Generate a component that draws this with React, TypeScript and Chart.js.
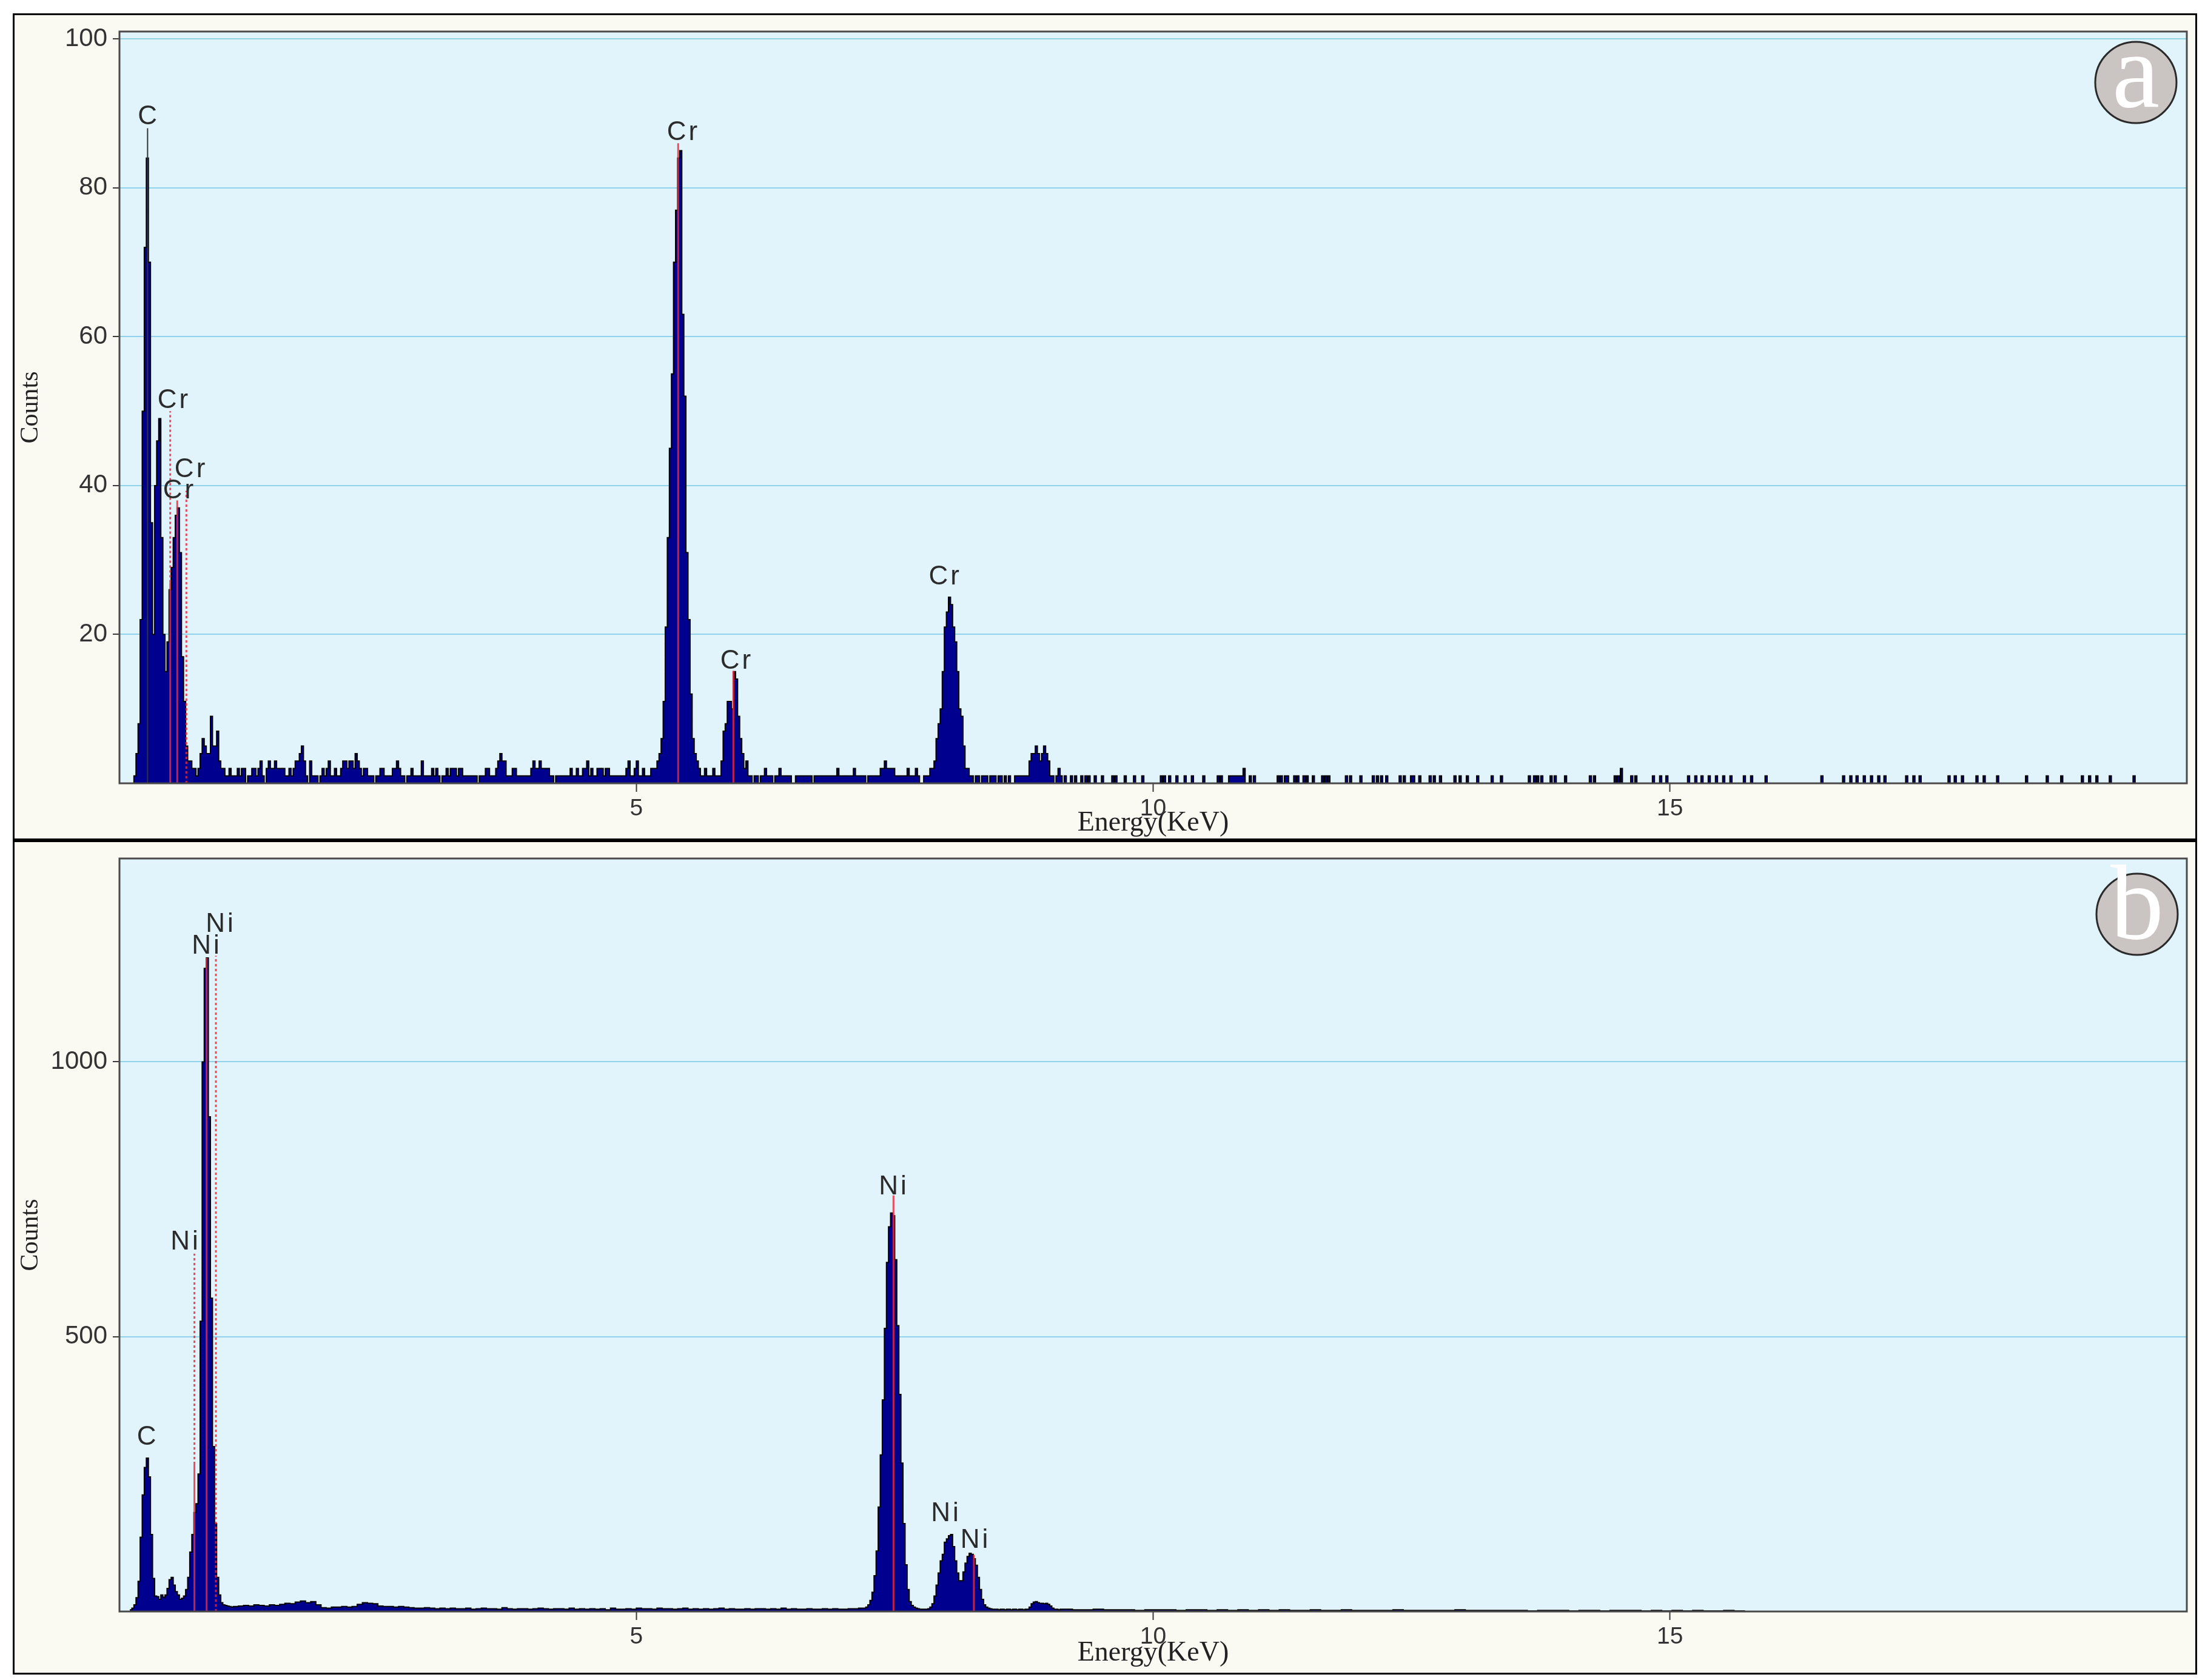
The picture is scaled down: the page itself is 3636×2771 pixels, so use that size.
import React, { useEffect, useRef } from 'react';
import { Chart, registerables } from 'chart.js';

Chart.register(...registerables);

// ================= Panel (a) : Cr spectrum =================
const startA = 0.1;
const widthA = 0.02;
// counts per 0.02 keV channel, from 0.10 keV to 9.30 keV
const countsA = [
  // 0.10 - 1.08
  0, 0, 1, 4, 8, 22, 50, 72, 84, 70,
  35, 20, 40, 46, 49, 33, 20, 15, 19, 26,
  29, 33, 36, 37, 31, 17, 11, 5, 3, 3,
  2, 2, 1, 2, 4, 6, 5, 4, 4, 9,
  5, 5, 7, 3, 2, 2, 1, 1, 2, 1,
  // 1.10 - 5.10
  1, 1, 2, 1, 2, 2, 0, 1, 1, 2,
  2, 1, 2, 3, 1, 0, 2, 3, 2, 2,
  3, 2, 2, 2, 2, 1, 1, 2, 1, 2,
  3, 3, 4, 5, 3, 1, 0, 3, 1, 1,
  1, 0, 1, 2, 1, 2, 3, 1, 1, 2,
  1, 1, 2, 3, 3, 2, 3, 3, 2, 4,
  3, 2, 1, 2, 2, 1, 1, 1, 0, 1,
  1, 2, 2, 1, 1, 1, 1, 2, 2, 3,
  2, 1, 1, 0, 1, 1, 2, 1, 1, 1,
  1, 3, 1, 1, 1, 1, 2, 1, 2, 1,
  0, 1, 1, 2, 1, 2, 2, 2, 1, 2,
  2, 1, 1, 1, 1, 1, 1, 1, 0, 1,
  1, 1, 2, 2, 1, 1, 1, 2, 3, 4,
  3, 3, 1, 1, 1, 2, 2, 1, 1, 1,
  1, 1, 1, 1, 2, 3, 2, 2, 3, 2,
  2, 2, 2, 1, 1, 0, 1, 1, 1, 1,
  1, 1, 1, 2, 1, 1, 2, 1, 1, 2,
  2, 3, 1, 2, 1, 1, 2, 2, 2, 1,
  2, 2, 1, 1, 1, 1, 1, 1, 1, 1,
  2, 3, 1, 1, 2, 3, 1, 1, 2, 1,
  1,
  // 5.12 - 9.30
  1, 2, 2, 2, 3, 4, 6, 11, 21, 33,
  45, 55, 70, 77, 84, 85, 63, 52, 31, 22,
  12, 6, 4, 3, 2, 1, 1, 2, 1, 1,
  1, 2, 1, 1, 1, 3, 7, 8, 11, 11,
  10, 15, 14, 9, 6, 4, 2, 3, 1, 1,
  0, 1, 1, 0, 1, 1, 2, 1, 1, 1,
  0, 1, 1, 2, 1, 1, 1, 1, 1, 0,
  0, 1, 1, 1, 1, 1, 1, 1, 1, 0,
  1, 1, 1, 1, 1, 1, 1, 1, 1, 1,
  1, 2, 1, 1, 1, 1, 1, 1, 1, 2,
  1, 1, 1, 1, 1, 0, 1, 1, 1, 1,
  1, 1, 2, 2, 3, 2, 2, 2, 2, 1,
  1, 1, 1, 1, 1, 2, 1, 1, 1, 2,
  1, 0, 0, 1, 1, 1, 2, 2, 3, 6,
  8, 10, 15, 21, 23, 25, 24, 21, 19, 15,
  10, 9, 5, 2, 2, 1, 1, 0, 1, 1,
  0, 1, 1, 1, 0, 1, 1, 1, 0, 1,
  1, 0, 1, 0, 1, 0, 0, 1, 1, 1,
  1, 1, 1, 1, 3, 4, 4, 5, 4, 3,
  4, 5, 4, 3, 1, 1, 0, 1, 2, 1,
  0, 1, 0, 0, 1, 0, 1, 0, 0, 1,
];
// isolated single-count channels above 9.3 keV
const tailEnergiesA = [
  9.34, 9.37, 9.43, 9.5, 9.6, 9.63, 9.72, 9.81, 9.89, 10.07, 10.1, 10.15, 10.22, 10.3,
  10.37, 10.48, 10.62, 10.65, 10.73, 10.75, 10.77, 10.79, 10.81, 10.83, 10.85, 10.87,
  10.93, 10.97, 11.2, 11.23, 11.27, 11.29, 11.36, 11.39, 11.45, 11.48, 11.54, 11.63,
  11.66, 11.69, 11.86, 11.9, 12.0, 12.12, 12.16, 12.2, 12.25, 12.38, 12.42, 12.49,
  12.51, 12.57, 12.67, 12.71, 12.77, 12.91, 12.96, 13.03, 13.13, 13.27, 13.36, 13.63,
  13.68, 13.71, 13.75, 13.84, 13.88, 13.98, 14.22, 14.26, 14.46, 14.49, 14.52, 14.62,
  14.66, 14.83, 14.9, 14.96, 15.17, 15.24, 15.3, 15.37, 15.44, 15.51, 15.58, 15.71,
  15.78, 15.92, 16.46, 16.67, 16.74, 16.8, 16.87, 16.94, 17.01, 17.07, 17.28, 17.35,
  17.41, 17.69, 17.75, 17.82, 17.96, 18.03, 18.16, 18.44, 18.64, 18.78, 18.98, 19.05,
  19.12, 19.25, 19.48,
];
const tailDoublesA = [10.87, 14.52];
const yTicksA = [20, 40, 60, 80, 100];
const yMaxA = 101;
const markerEnergiesA = [0.272, 0.491, 0.559, 0.647, 5.405, 5.939];
const markerTopsA = [88, 50, 38, 39.3, 86, 15.1];
const markerSolidTopsA = [88, 27, 38, 0, 86, 15.1];
const markerIsGrayA = [true, false, false, false, false, false];
const labelTextsA = ['C', 'Cr', 'Cr', 'Cr', 'Cr', 'Cr', 'Cr'];
const labelEnergiesA = [0.27, 0.516, 0.569, 0.681, 5.444, 5.961, 7.977];
const labelValuesA = [88.5, 50.4, 38.3, 41.1, 86.4, 15.4, 26.7];

// ================= Panel (b) : Ni spectrum =================
const segStartsB = [0.1, 1.1, 7.2, 9.12];
const segWidthsB = [0.02, 0.05, 0.02, 0.1];
const countsB1 = [
  3, 6, 12, 25, 55, 135, 212, 262, 279, 245,
  140, 60, 28, 27, 22, 30, 26, 30, 42, 58,
  62, 48, 36, 30, 22, 24, 28, 40, 62, 108,
  140, 180, 196, 250, 528, 1000, 1170, 1189, 900, 570,
  300, 160, 62, 30, 16, 12, 11, 10, 9, 8,
];
const countsB2 = [
  9, 10, 11, 10, 12, 11, 10, 12, 11, 13,
  15, 14, 17, 19, 16, 18, 12, 7, 6, 8,
  8, 9, 8, 9, 13, 16, 15, 14, 10, 9,
  9, 8, 9, 8, 7, 6, 6, 7, 6, 5,
  6, 5, 6, 5, 5, 6, 4, 5, 6, 5,
  5, 4, 7, 5, 4, 5, 5, 4, 5, 6,
  5, 4, 5, 5, 4, 6, 4, 5, 4, 5,
  4, 5, 3, 6, 4, 4, 5, 4, 6, 5,
  5, 4, 6, 5, 5, 4, 5, 6, 4, 5,
  4, 5, 4, 5, 6, 4, 5, 4, 4, 5,
  4, 5, 5, 4, 5, 4, 6, 4, 5, 4,
  4, 5, 4, 4, 5, 4, 5, 4, 4, 5,
  5, 6,
];
const countsB3 = [
  6, 8, 12, 20, 35, 65, 110, 190, 285, 385,
  515, 635, 700, 725, 720, 640, 520, 395, 270, 160,
  85, 40, 18, 11, 8, 6, 5, 4, 4, 4,
  4, 5, 8, 14, 28, 48, 70, 92, 104, 126,
  132, 138, 140, 118, 92, 70, 56, 56, 72, 88,
  100, 106, 104, 96, 84, 62, 40, 22, 12, 8,
  6, 5, 4, 4, 4, 3, 4, 4, 3, 4,
  4, 3, 4, 4, 3, 4, 4, 3, 4, 4,
  8, 14, 17, 18, 16, 15, 15, 14, 15, 13,
  10, 6, 4, 4, 3, 4,
];
const countsB4 = [
  4, 3, 3, 4, 3, 3, 3, 2, 3, 3,
  3, 2, 3, 3, 2, 3, 2, 3, 2, 3,
  2, 3, 2, 2, 3, 2, 2, 3, 2, 2,
  2, 2, 3, 2, 2, 2, 2, 2, 3, 2,
  2, 2, 2, 2, 2, 1, 2, 2, 2, 1,
  2, 2, 1, 2, 2, 2, 1, 2, 1, 2,
  1, 2, 1, 1, 2, 1, 0,
];
const yTicksB = [500, 1000];
const yMaxB = 1370;
const markerEnergiesB = [0.725, 0.843, 0.933, 7.488, 8.266];
const markerTopsB = [651, 1189, 1193, 757, 103];
const markerSolidTopsB = [268, 1189, 0, 757, 103];
const markerIsGrayB = [false, false, false, false, false];
const labelTextsB = ['C', 'Ni', 'Ni', 'Ni', 'Ni', 'Ni', 'Ni'];
const labelEnergiesB = [0.262, 0.628, 0.833, 0.968, 7.48, 7.985, 8.27];
const labelValuesB = [303, 659, 1197, 1237, 759, 164, 116];

const xTicks = [5, 10, 15];

// ================= helpers =================
type Pt = { x: number; y: number };

function buildSpectrum(
  starts: number[],
  widths: number[],
  lists: number[][],
  spikeE: number[] = [],
  doubles: number[] = [],
  spikeW = 0.02
): Pt[] {
  const pts: Pt[] = [];
  let end = 0;
  lists.forEach((list, s) => {
    list.forEach((c, i) => pts.push({ x: starts[s] + i * widths[s], y: c }));
    end = starts[s] + list.length * widths[s];
  });
  pts.push({ x: end, y: 0 });
  spikeE.forEach((e) => {
    const c = doubles.some((d) => Math.abs(d - e) < 1e-6) ? 2 : 1;
    const last = pts[pts.length - 1];
    if (Math.abs(last.x - e) < 1e-6 && last.y === 0) pts.pop();
    pts.push({ x: e, y: c });
    pts.push({ x: e + spikeW, y: 0 });
  });
  return pts;
}

const SANS = '"Liberation Sans", Arial, sans-serif';
const SERIF = '"Liberation Serif", "Times New Roman", serif';
const RED = 'rgba(238, 40, 58, 0.82)';

interface PanelCfg {
  data: Pt[];
  yMax: number;
  yTicks: number[];
  xAxisHeight: number;
  titlePadBottom: number;
  padTop: number;
  padRight: number;
  yAxisWidth: number;
  markerE: number[];
  markerTop: number[];
  markerSolid: number[];
  markerGray: boolean[];
  labelT: string[];
  labelE: number[];
  labelV: number[];
  badge: string;
  badgeDx: number;
  badgeDy: number;
}

function makeDecoPlugin(cfg: PanelCfg) {
  return {
    id: 'panelDeco',
    beforeDraw(chart: any) {
      const { ctx, width, height, chartArea: ca } = chart;
      ctx.save();
      ctx.fillStyle = '#fafaf3';
      ctx.fillRect(0, 0, width, height);
      ctx.fillStyle = '#e1f3fb';
      ctx.fillRect(ca.left, ca.top, ca.right - ca.left, ca.bottom - ca.top);
      ctx.restore();
    },
    afterDatasetsDraw(chart: any) {
      const { ctx, width, height, chartArea: ca } = chart;
      const xs = chart.scales.x;
      const ys = chart.scales.y;
      ctx.save();
      // element marker lines
      cfg.markerE.forEach((e, i) => {
        const px = xs.getPixelForValue(e);
        const yTop = ys.getPixelForValue(cfg.markerTop[i]);
        const ySolid = ys.getPixelForValue(cfg.markerSolid[i]);
        const y0 = ys.getPixelForValue(0);
        ctx.lineWidth = cfg.markerGray[i] ? 2 : 3;
        ctx.strokeStyle = cfg.markerGray[i] ? '#333333' : RED;
        if (cfg.markerSolid[i] > 0) {
          ctx.setLineDash([]);
          ctx.beginPath();
          ctx.moveTo(px, y0);
          ctx.lineTo(px, ySolid);
          ctx.stroke();
        }
        if (cfg.markerSolid[i] < cfg.markerTop[i]) {
          ctx.setLineDash([4, 4]);
          ctx.beginPath();
          ctx.moveTo(px, ySolid);
          ctx.lineTo(px, yTop);
          ctx.stroke();
        }
      });
      ctx.setLineDash([]);
      // element labels
      ctx.fillStyle = '#2b2b2b';
      ctx.font = `44px ${SANS}`;
      ctx.textAlign = 'center';
      ctx.textBaseline = 'alphabetic';
      (ctx as any).letterSpacing = '4px';
      cfg.labelT.forEach((t, i) => {
        ctx.fillText(t, xs.getPixelForValue(cfg.labelE[i]) + 2, ys.getPixelForValue(cfg.labelV[i]));
      });
      (ctx as any).letterSpacing = '0px';
      // plot border
      ctx.strokeStyle = '#4a4a4a';
      ctx.lineWidth = 3;
      ctx.strokeRect(ca.left, ca.top, ca.right - ca.left, ca.bottom - ca.top);
      // badge
      const cx = ca.right - cfg.badgeDx;
      const cy = ca.top + cfg.badgeDy;
      ctx.beginPath();
      ctx.arc(cx, cy, 67, 0, Math.PI * 2);
      ctx.fillStyle = '#cac4c3';
      ctx.fill();
      ctx.lineWidth = 3;
      ctx.strokeStyle = '#2a2a2a';
      ctx.stroke();
      ctx.fillStyle = '#ffffff';
      ctx.font = `176px ${SERIF}`;
      ctx.textAlign = 'center';
      ctx.textBaseline = 'alphabetic';
      ctx.fillText(cfg.badge, cx, cy + 40);
      // outer frame
      ctx.strokeStyle = '#000000';
      ctx.lineWidth = 3;
      ctx.strokeRect(1.5, 1.5, width - 3, height - 3);
      ctx.restore();
    },
  };
}

function makeConfig(cfg: PanelCfg): any {
  return {
    type: 'line',
    data: {
      datasets: [
        {
          data: cfg.data,
          stepped: true,
          fill: 'origin',
          borderColor: '#000000',
          borderWidth: 2,
          backgroundColor: '#00008e',
          pointRadius: 0,
          pointHoverRadius: 0,
          tension: 0,
        },
      ],
    },
    options: {
      responsive: false,
      animation: false,
      devicePixelRatio: 1,
      events: [],
      layout: { padding: { left: 0, top: cfg.padTop, right: cfg.padRight, bottom: 0 } },
      plugins: { legend: { display: false }, tooltip: { enabled: false } },
      scales: {
        x: {
          type: 'linear',
          min: 0,
          max: 20,
          afterFit: (s: any) => {
            s.height = cfg.xAxisHeight;
          },
          afterBuildTicks: (s: any) => {
            s.ticks = xTicks.map((v) => ({ value: v }));
          },
          grid: { drawOnChartArea: false, tickColor: '#3a3a3a', tickLength: 14, tickWidth: 2 },
          border: { display: false },
          ticks: {
            font: { family: SANS, size: 39, lineHeight: 1 },
            color: '#333333',
            padding: 9,
            maxRotation: 0,
            autoSkip: false,
            callback: (v: any) => String(v),
          },
          title: {
            display: true,
            text: 'Energy(KeV)',
            font: { family: SERIF, size: 46, lineHeight: 1 },
            color: '#222222',
            padding: { top: 0, bottom: cfg.titlePadBottom },
          },
        },
        y: {
          type: 'linear',
          min: 0,
          max: cfg.yMax,
          afterFit: (s: any) => {
            s.width = cfg.yAxisWidth;
          },
          afterBuildTicks: (s: any) => {
            s.ticks = cfg.yTicks.map((v) => ({ value: v }));
          },
          grid: {
            color: '#8fd2ea',
            lineWidth: 2,
            tickColor: '#3a3a3a',
            tickLength: 11,
            tickWidth: 2,
          },
          border: { display: false },
          ticks: {
            font: { family: SANS, size: 42, lineHeight: 1 },
            color: '#333333',
            padding: 9,
            autoSkip: false,
            callback: (v: any) => String(v),
          },
          title: {
            display: true,
            text: 'Counts',
            font: { family: SERIF, size: 42, lineHeight: 1 },
            color: '#222222',
            padding: { top: 9, bottom: 0 },
          },
        },
      },
    },
    plugins: [makeDecoPlugin(cfg)],
  };
}

const panelA: PanelCfg = {
  data: buildSpectrum([startA], [widthA], [countsA], tailEnergiesA, tailDoublesA),
  yMax: yMaxA,
  yTicks: yTicksA,
  xAxisHeight: 94,
  titlePadBottom: 5,
  padTop: 25,
  padRight: 17,
  yAxisWidth: 176,
  markerE: markerEnergiesA,
  markerTop: markerTopsA,
  markerSolid: markerSolidTopsA,
  markerGray: markerIsGrayA,
  labelT: labelTextsA,
  labelE: labelEnergiesA,
  labelV: labelValuesA,
  badge: 'a',
  badgeDx: 84,
  badgeDy: 84,
};

const panelB: PanelCfg = {
  data: buildSpectrum(segStartsB, segWidthsB, [countsB1, countsB2, countsB3, countsB4]),
  yMax: yMaxB,
  yTicks: yTicksB,
  xAxisHeight: 104,
  titlePadBottom: 12,
  padTop: 25,
  padRight: 17,
  yAxisWidth: 176,
  markerE: markerEnergiesB,
  markerTop: markerTopsB,
  markerSolid: markerSolidTopsB,
  markerGray: markerIsGrayB,
  labelT: labelTextsB,
  labelE: labelEnergiesB,
  labelV: labelValuesB,
  badge: 'b',
  badgeDx: 82,
  badgeDy: 92,
};

export default function App() {
  const refA = useRef<HTMLCanvasElement>(null);
  const refB = useRef<HTMLCanvasElement>(null);

  useEffect(() => {
    const cA = new Chart(refA.current as HTMLCanvasElement, makeConfig(panelA));
    const cB = new Chart(refB.current as HTMLCanvasElement, makeConfig(panelB));
    return () => {
      cA.destroy();
      cB.destroy();
    };
  }, []);

  return (
    <div
      style={{
        position: 'absolute',
        left: 0,
        top: 0,
        width: 3636,
        height: 2771,
        background: '#ffffff',
        overflow: 'hidden',
      }}
    >
      <canvas
        ref={refA}
        width={3602}
        height={1364}
        style={{ position: 'absolute', left: 21, top: 22, width: 3602, height: 1364, display: 'block' }}
      />
      <canvas
        ref={refB}
        width={3602}
        height={1376}
        style={{ position: 'absolute', left: 21, top: 1386, width: 3602, height: 1376, display: 'block' }}
      />
    </div>
  );
}
